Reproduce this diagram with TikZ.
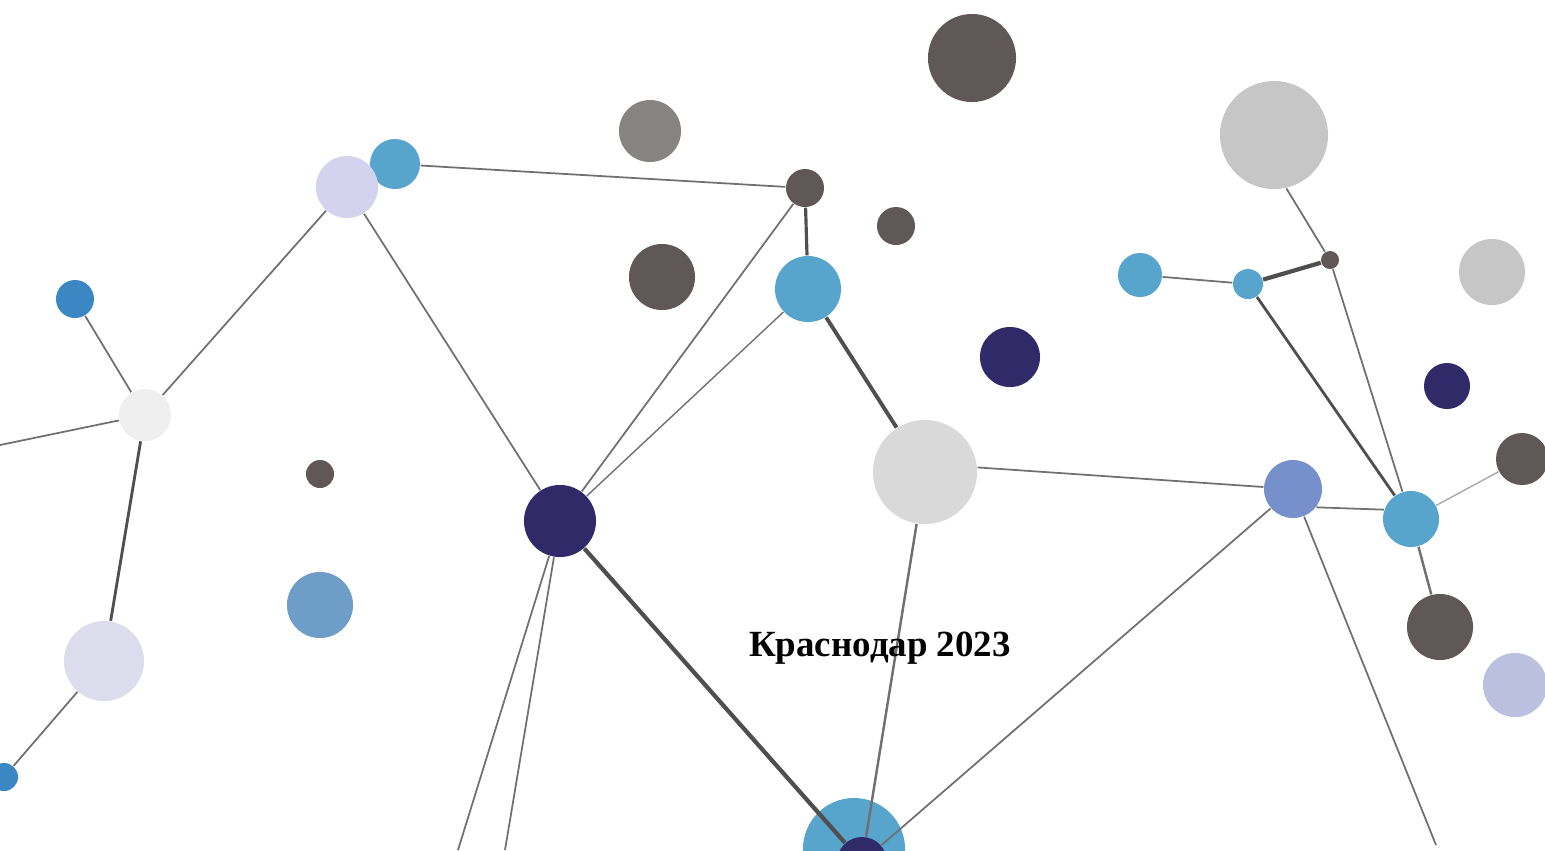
\documentclass[tikz,border=0pt]{standalone}
\usepackage{fontspec}
\setmainfont{Liberation Serif}
\usepackage{xcolor}
\usetikzlibrary{backgrounds}

\definecolor{darkgr}{HTML}{5F5856}
\definecolor{midgr}{HTML}{858480}
\definecolor{sky}{HTML}{57A5CC}
\definecolor{navy}{HTML}{302A68}
\definecolor{deepblue}{HTML}{3B87C4}
\definecolor{pale}{HTML}{EFEFEF}
\definecolor{lightgr}{HTML}{D9D9D9}
\definecolor{greyR}{HTML}{C6C6C6}
\definecolor{lavA}{HTML}{D4D3EE}
\definecolor{lavL}{HTML}{DCDCEC}
\definecolor{lavR}{HTML}{BAC0DE}
\definecolor{peri}{HTML}{7690CC}
\definecolor{steel}{HTML}{6E9DC8}
\definecolor{linkgr}{HTML}{707070}
\definecolor{bondgr}{HTML}{4F4F4F}

\begin{document}
\begin{tikzpicture}[x=0.01cm, y=-0.01cm,
    ball/.style={circle, inner sep=0pt, minimum size=#1*0.02cm},
    link/.style={draw=linkgr, line width=0.5pt},
    bond/.style={draw=bondgr, line width=1.1pt}]
  \useasboundingbox (0,0) rectangle (1545,850);
  \clip (0,0) rectangle (1545,850);

  \node[ball=44, fill=darkgr] (topdark) at (972,58) {};
  \node[ball=31, fill=midgr] (midgray) at (650,131) {};
  \node[ball=25, fill=sky] (blueA) at (395,164) {};
  \node[ball=31, fill=lavA] (lavA) at (347,187) {};
  \node[ball=19, fill=darkgr] (hubtop) at (805,188) {};
  \node[ball=19, fill=darkgr] (dotA) at (896,226) {};
  \node[ball=33, fill=darkgr] (darkB) at (662,277) {};
  \node[ball=33, fill=sky] (blueB) at (808,289) {};
  \node[ball=30, fill=navy] (navyA) at (1010,357) {};
  \node[ball=19, fill=deepblue] (blueL) at (75,299) {};
  \node[ball=26, fill=pale] (paleL) at (145,415) {};
  \node[ball=14, fill=darkgr] (dotL) at (320,474) {};
  \node[ball=36, fill=navy] (navyhub) at (560,521) {};
  \node[ball=52, fill=lightgr] (greyhub) at (925,472) {};
  \node[ball=33, fill=steel] (steel) at (320,605) {};
  \node[ball=40, fill=lavL] (lavL) at (104,661) {};
  \node[ball=14, fill=deepblue] (blueS) at (4,777) {};
  \node[ball=54, fill=greyR] (greyR) at (1274,135) {};
  \node[ball=22, fill=sky] (blueC) at (1140,275) {};
  \node[ball=15, fill=sky] (blueD) at (1248,284) {};
  \node[ball=9, fill=darkgr] (dotR) at (1330,260) {};
  \node[ball=33, fill=greyR] (greyS) at (1492,272) {};
  \node[ball=23, fill=navy] (navyR) at (1447,386) {};
  \node[ball=26, fill=darkgr] (darkR) at (1522,459) {};
  \node[ball=29, fill=peri] (peri) at (1293,489) {};
  \node[ball=28, fill=sky] (blueE) at (1411,519) {};
  \node[ball=33, fill=darkgr] (darkS) at (1440,627) {};
  \node[ball=32, fill=lavR] (lavR) at (1515,685) {};
  \node[ball=25, fill=navy] (navyBot) at (862,862) {};

  \coordinate (edgeL) at (0,445);
  \coordinate (footA) at (458,850);
  \coordinate (footB) at (505,850);
  \coordinate (footR) at (1436,845);

  \begin{scope}[on background layer]
    \node[ball=51, fill=sky] (blueBot) at (854,849) {};
    \draw[link] (edgeL) -- (paleL);
    \draw[link] (blueL) -- (paleL);
    \draw[link] (paleL) -- (lavA);
    \draw[bond, line width=0.8pt] (paleL) -- (lavL);
    \draw[link] (lavL) -- (blueS);
    \draw[link] (blueA) -- (hubtop);
    \draw[link] (lavA) -- (navyhub);
    \draw[link] (navyhub) -- (hubtop);
    \draw[link, line width=0.4pt] (navyhub) -- (blueB);
    \draw[bond, line width=0.9pt] (hubtop) -- (blueB);
    \draw[bond] (blueB) -- (greyhub);
    \draw[link] (navyhub) -- (footA);
    \draw[link] (navyhub) -- (footB);
    \draw[bond, line width=1.2pt] (navyhub) -- (navyBot);
    \draw[link, line width=0.7pt] (greyhub) -- (navyBot);
    \draw[link] (greyhub.5) -- (peri);
    \draw[link] (peri) -- (navyBot);
    \draw[link] (peri.-38) -- (blueE.161);
    \draw[link] (peri) -- (footR);
    \draw[link] (greyR.-77) -- (dotR);
    \draw[bond, line width=1.2pt] (dotR) -- (blueD);
    \draw[link] (blueC) -- (blueD);
    \draw[bond, line width=0.8pt] (blueD) -- (blueE);
    \draw[link] (dotR) -- (blueE);
    \draw[link, draw=linkgr!60, line width=0.4pt] (blueE) -- (darkR);
    \draw[link, line width=0.7pt] (blueE) -- (darkS);
  \end{scope}

  \node[font=\bfseries\fontsize{10.5}{12}\selectfont] (city) at (880,648) {Краснодар 2023};
\end{tikzpicture}
\end{document}
